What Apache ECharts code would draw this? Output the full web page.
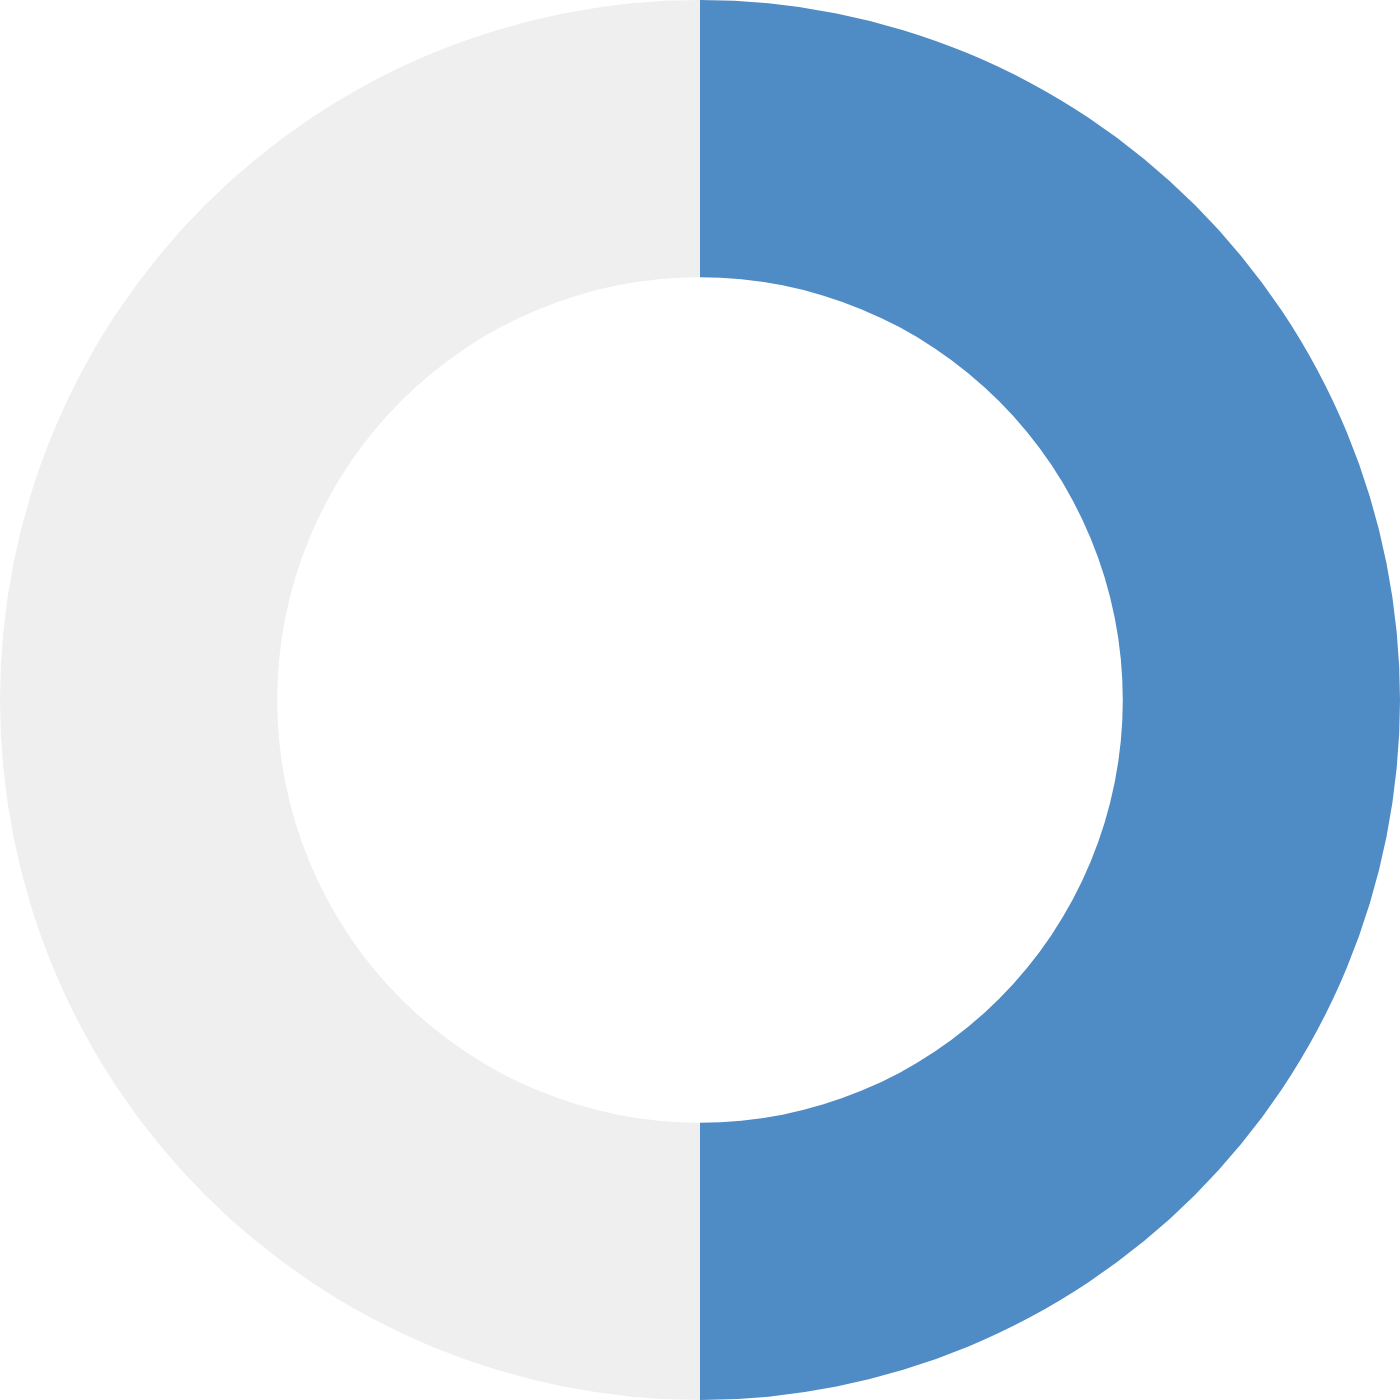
<!DOCTYPE html>
<html>
<head>
<meta charset="utf-8">
<script src="https://cdn.jsdelivr.net/npm/echarts@6/dist/echarts.min.js"></script>
<style>
  html, body { margin: 0; padding: 0; background: #fff; }
  #chart { width: 1400px; height: 1400px; }
</style>
</head>
<body>
<div id="chart"></div>
<script>
const names = ['Value', 'Remainder']
const values = [50, 50]
const colors = ['#4F8BC5', '#EFEFEF']

const chart = echarts.init(document.getElementById('chart'))
chart.setOption({
  animation: false,
  series: [{
    type: 'pie',
    center: ['50%', '50%'],
    radius: ['60.4%', '100%'],
    startAngle: 90,
    clockwise: true,
    silent: true,
    label: { show: false },
    labelLine: { show: false },
    data: names.map((n, i) => ({
      name: n,
      value: values[i],
      itemStyle: { color: colors[i] }
    }))
  }]
})
</script>
</body>
</html>
